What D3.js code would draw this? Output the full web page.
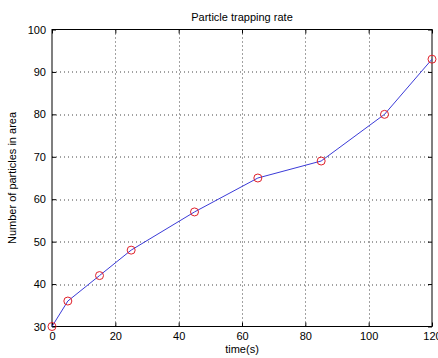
<!DOCTYPE html>
<html>
<head>
<meta charset="utf-8">
<script src="https://cdn.jsdelivr.net/npm/d3@7/dist/d3.min.js"></script>
<style>
  body { margin: 0; background: #fff; }
  text { font-family: Arial, "Liberation Sans", sans-serif; fill: #000; }
</style>
</head>
<body>
<div id="chart"></div>
<script>
// data
const timeValues = [0, 5, 15, 25, 45, 65, 85, 105, 120];
const particleCounts = [30, 36, 42, 48, 57, 65, 69, 80, 93];
const xTicks = [0, 20, 40, 60, 80, 100, 120];
const yTicks = [30, 40, 50, 60, 70, 80, 90, 100];

const W = 438, H = 358;
const margin = { top: 29.5, right: 6, bottom: 31.5, left: 52 };
const width = W - margin.left - margin.right,
      height = H - margin.top - margin.bottom;

const svg = d3.select("#chart").append("svg")
    .attr("width", W).attr("height", H);

const g = svg.append("g")
    .attr("transform", "translate(" + margin.left + "," + margin.top + ")");

const x = d3.scaleLinear().domain([0, 120]).range([0, width]);
const y = d3.scaleLinear().domain([30, 100]).range([height, 0]);

// dotted grid
g.append("g").selectAll("line")
    .data(xTicks.slice(1, -1))
    .join("line")
    .attr("x1", d => Math.round(x(d)) + 0.5).attr("x2", d => Math.round(x(d)) + 0.5)
    .attr("y1", 0).attr("y2", height)
    .attr("stroke", "#444").attr("stroke-width", 1).attr("stroke-dasharray", "1,3");
g.append("g").selectAll("line")
    .data(yTicks.slice(1, -1))
    .join("line")
    .attr("y1", d => Math.round(y(d)) + 0.5).attr("y2", d => Math.round(y(d)) + 0.5)
    .attr("x1", 0).attr("x2", width)
    .attr("stroke", "#444").attr("stroke-width", 1).attr("stroke-dasharray", "1,3");

// axes, ticks pointing inward like matlab
function styleAxis(sel) {
  sel.select(".domain").remove();
  sel.selectAll("line").attr("stroke", "#000");
  sel.selectAll("text").style("font-size", "11px").attr("fill", "#000");
}
g.append("g")
    .attr("transform", "translate(0," + height + ")")
    .call(d3.axisBottom(x).tickValues(xTicks).tickSize(-4).tickPadding(6))
    .call(styleAxis);
g.append("g")
    .call(d3.axisTop(x).tickValues(xTicks).tickSize(-4).tickFormat(""))
    .call(styleAxis);
g.append("g")
    .call(d3.axisLeft(y).tickValues(yTicks).tickSize(-4).tickPadding(6))
    .call(styleAxis);
g.append("g")
    .attr("transform", "translate(" + width + ",0)")
    .call(d3.axisRight(y).tickValues(yTicks).tickSize(-4).tickFormat(""))
    .call(styleAxis);

// box
g.append("rect")
    .attr("x", 0).attr("y", 0).attr("width", width).attr("height", height)
    .attr("fill", "none").attr("stroke", "#000").attr("stroke-width", 1);

// line
const pts = timeValues.map((t, i) => [t, particleCounts[i]]);
const line = d3.line()
    .x(d => x(d[0]))
    .y(d => y(d[1]));

g.append("path")
    .datum(pts)
    .attr("d", line)
    .attr("fill", "none")
    .attr("stroke", "#3b3bd8")
    .attr("stroke-width", 1);

// markers
g.selectAll("circle.pt")
    .data(pts)
    .join("circle")
    .attr("class", "pt")
    .attr("cx", d => x(d[0]))
    .attr("cy", d => y(d[1]))
    .attr("r", 4)
    .attr("fill", "none")
    .attr("stroke", "#e0202a")
    .attr("stroke-width", 1);

// labels
svg.append("text")
    .attr("x", margin.left + width / 2).attr("y", 21)
    .attr("text-anchor", "middle")
    .style("font-size", "11px")
    .text("Particle trapping rate");

svg.append("text")
    .attr("x", margin.left + width / 2).attr("y", 353)
    .attr("text-anchor", "middle")
    .style("font-size", "11px")
    .text("time(s)");

svg.append("text")
    .attr("transform", "translate(16," + (margin.top + height / 2) + ")rotate(-90)")
    .attr("text-anchor", "middle")
    .style("font-size", "11px")
    .text("Number of particles in area");
</script>
</body>
</html>
